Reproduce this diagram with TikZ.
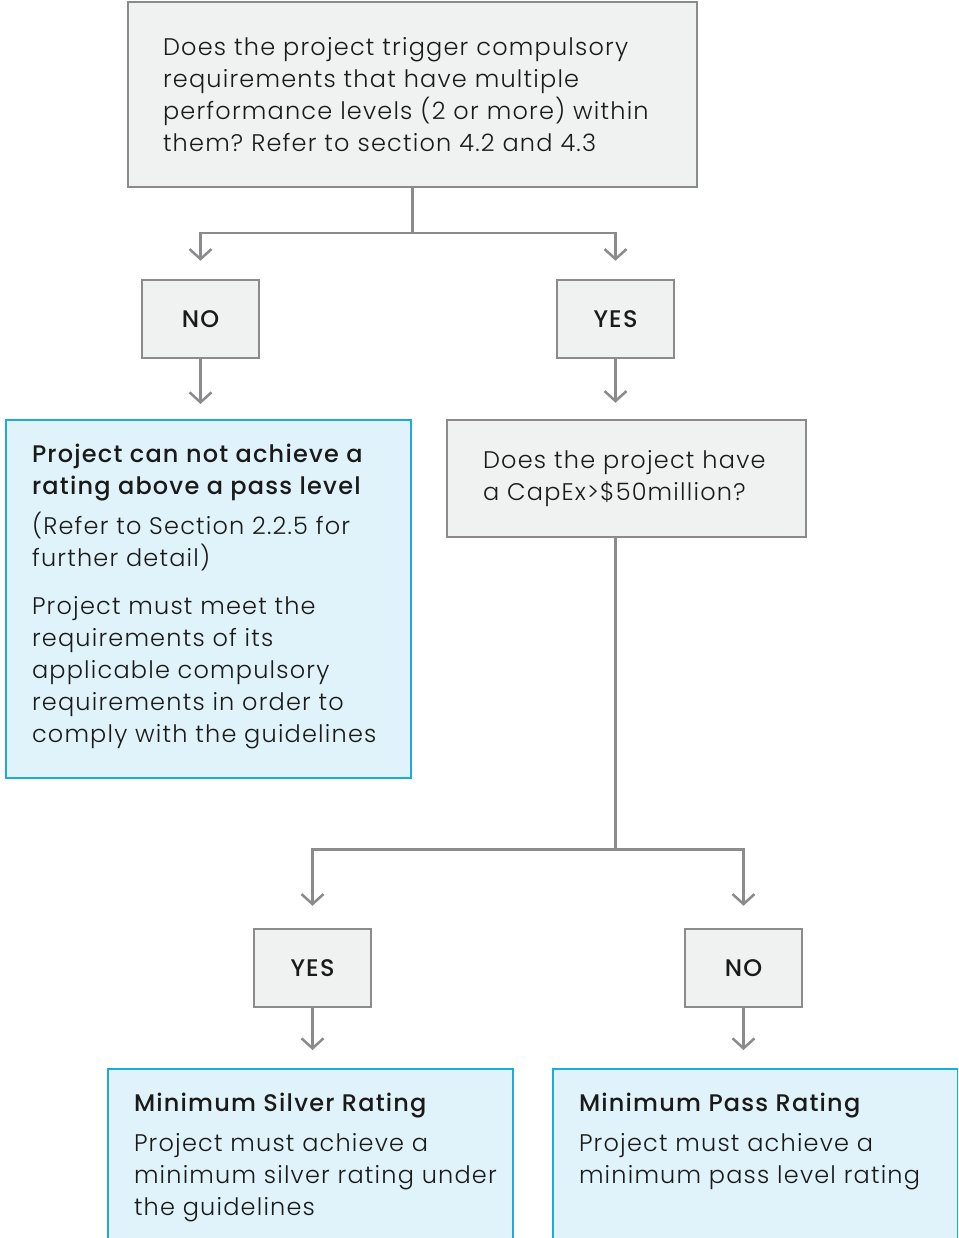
\documentclass[tikz,border=0pt]{standalone}
\usepackage{fontspec}
\setmainfont{Poppins}[UprightFont={* Light}, BoldFont={* Medium}, LetterSpace=5]
\usetikzlibrary{arrows.meta}
\frenchspacing

\definecolor{boxgray}{HTML}{F0F1F1}
\definecolor{linegray}{HTML}{8B8B8D}
\definecolor{boxblue}{HTML}{E0F3FA}
\definecolor{lineblue}{HTML}{1AADDB}
\definecolor{textdark}{HTML}{1A1A1A}
\newcommand{\flowsize}{\fontsize{24}{32}\selectfont}

\begin{document}
\begin{tikzpicture}[x=1pt,y=-1pt]

\tikzset{
  every node/.append style = {text=textdark},
  question/.style = {draw=linegray, fill=boxgray, line width=2.5pt, inner sep=0pt, align=left, font=\flowsize},
  answer/.style = {draw=linegray, fill=boxgray, line width=2.5pt, minimum width=117pt, minimum height=78pt, inner sep=0pt, font=\flowsize\bfseries},
  outcome/.style = {draw=lineblue, fill=boxblue, line width=2pt, inner xsep=26pt, inner ysep=24pt, anchor=north west, font=\flowsize},
  conn/.style = {draw=linegray, line width=2.5pt, -{Straight Barb[length=10pt,width=22pt]}}
}

\useasboundingbox (0,0) rectangle (958,1238);
\clip (0,0) rectangle (958,1238);

\node[question, minimum width=569pt, minimum height=185pt, text width=499pt] (trigger) at (412.5,94.5)
  {Does the project trigger compulsory\\ requirements that have multiple\\ performance levels (2 or more) within\\ them? Refer to section 4.2 and 4.3};

\node[answer] (no) at (200.5,319) {NO};
\node[answer] (yes) at (615.5,319) {YES};

\node[outcome] (capped) at (5,419) {\parbox[t][310pt][t]{353pt}{\raggedright
  {\bfseries Project can not achieve a\\ rating above a pass level}\par\vspace{8pt}
  (Refer to Section 2.2.5 for\\ further detail)\par\vspace{16pt}
  Project must meet the\\ requirements of its\\ applicable compulsory\\ requirements in order to\\ comply with the guidelines}};

\node[question, minimum width=359pt, minimum height=117pt, text width=287pt] (capex) at (626.5,478.5)
  {Does the project have\\ a CapEx>\$50million?};

\node[answer] (yes2) at (312.5,968) {YES};
\node[answer] (no2) at (743.5,968) {NO};

\node[outcome, inner xsep=0pt] (silver) at (107,1068) {\hspace{26pt}\parbox[t][200pt][t]{379pt}{\raggedright
  {\bfseries Minimum Silver Rating}\par\vspace{8pt}
  Project must achieve a\\ \mbox{minimum silver rating under}\\ the guidelines}};
\node[outcome] (minpass) at (552,1068) {\parbox[t][200pt][t]{353pt}{\raggedright
  {\bfseries Minimum Pass Rating}\par\vspace{8pt}
  Project must achieve a\\ minimum pass level rating}};

\draw[conn] (trigger.south) -- ++(0,45) -| ([yshift=18pt]no.north);
\draw[conn] (trigger.south) -- ++(0,45) -| ([yshift=18pt]yes.north);
\draw[conn] (no.south) -- ([yshift=15pt]no.south |- capped.north);
\draw[conn] (yes.south) -- ([yshift=16pt]yes.south |- capex.north);
\draw[conn] (capex.south -| yes.south) -- ++(0,311) -| ([yshift=22pt]yes2.north);
\draw[conn] (capex.south -| yes.south) -- ++(0,311) -| ([yshift=22pt]no2.north);
\draw[conn] (yes2.south) -- ([yshift=18pt]yes2.south |- silver.north);
\draw[conn] (no2.south) -- ([yshift=18pt]no2.south |- minpass.north);

\end{tikzpicture}
\end{document}
